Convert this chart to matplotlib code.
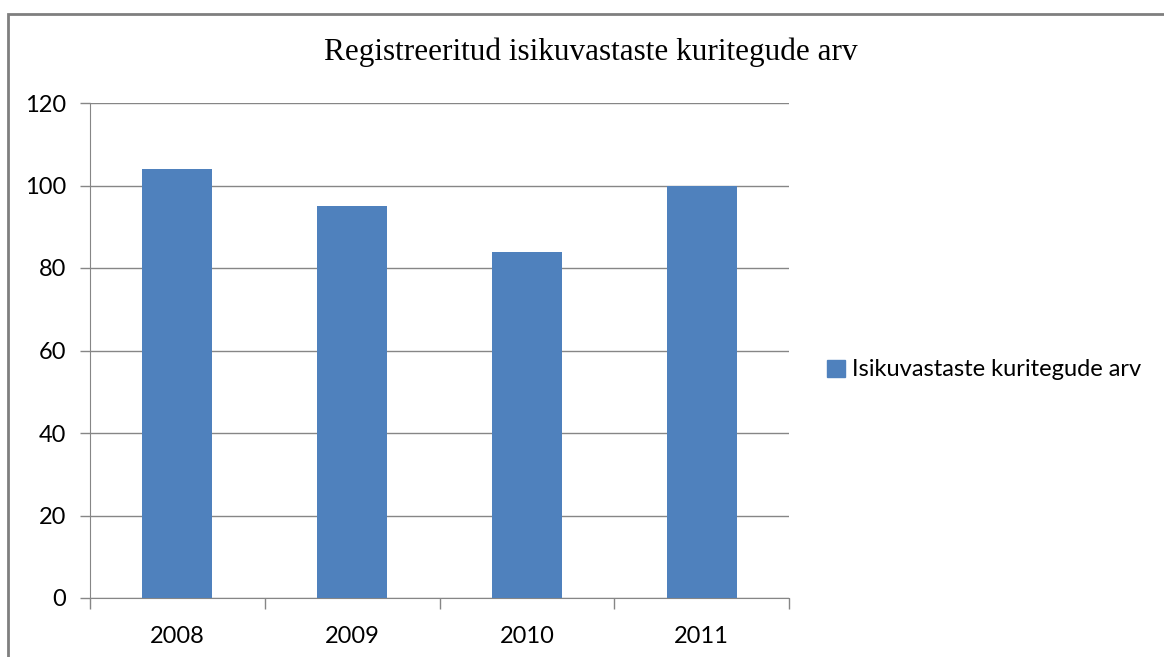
import matplotlib
matplotlib.use("Agg")
import matplotlib.pyplot as plt
from matplotlib.patches import Rectangle, Patch

years = ["2008", "2009", "2010", "2011"]
counts = [104, 95, 84, 100]
series_name = "Isikuvastaste kuritegude arv"
title = "Registreeritud isikuvastaste kuritegude arv"

BAR = "#4f81bd"
GRID = "#868686"

fig = plt.figure(figsize=(11.64, 6.57), dpi=100)
# outer chart frame (cut off at right/bottom like the source)
fig.patches.append(Rectangle((8 / 1164, -0.05), 1.2, 1 - 14 / 657 + 0.05,
                             transform=fig.transFigure, fill=False,
                             ec="#7f7f7f", lw=2))

ax = fig.add_axes([90 / 1164, 1 - 598 / 657, 699 / 1164, 495 / 657])
x = range(len(years))
ax.bar(x, counts, width=0.4, color=BAR, zorder=3)

ax.set_xlim(-0.5, len(years) - 0.5)
ax.set_ylim(0, 120)
ax.set_yticks(range(0, 121, 20))
ax.grid(axis="y", color=GRID, lw=1, zorder=0)
ax.set_xticks([i - 0.5 for i in range(len(years) + 1)], minor=False)
ax.set_xticklabels([])
ax.set_xticks(list(x), minor=True)
ax.set_xticklabels(years, minor=True)
ax.tick_params(axis="x", which="major", length=8, color=GRID, width=1)
ax.tick_params(axis="x", which="minor", length=0, pad=20, labelsize=17)
ax.tick_params(axis="y", length=7, color=GRID, width=1, pad=10, labelsize=17)
for lab in ax.get_xticklabels(minor=True) + ax.get_yticklabels():
    lab.set_fontfamily("Lato")
for s in ["top", "right"]:
    ax.spines[s].set_visible(False)
for s in ["left", "bottom"]:
    ax.spines[s].set_color(GRID)

fig.text(591 / 1164, 1 - 52 / 657, title, ha="center", va="center",
         fontsize=22.5, family="Liberation Serif")

leg = fig.legend(handles=[Patch(color=BAR, label=series_name)],
                 loc="center left", bbox_to_anchor=(806 / 1164, 1 - 370 / 657),
                 frameon=False, handlelength=0.75, handleheight=0.75,
                 handletextpad=0.3, prop={"family": "Lato", "size": 17})

fig.savefig("out.png", dpi=100)
